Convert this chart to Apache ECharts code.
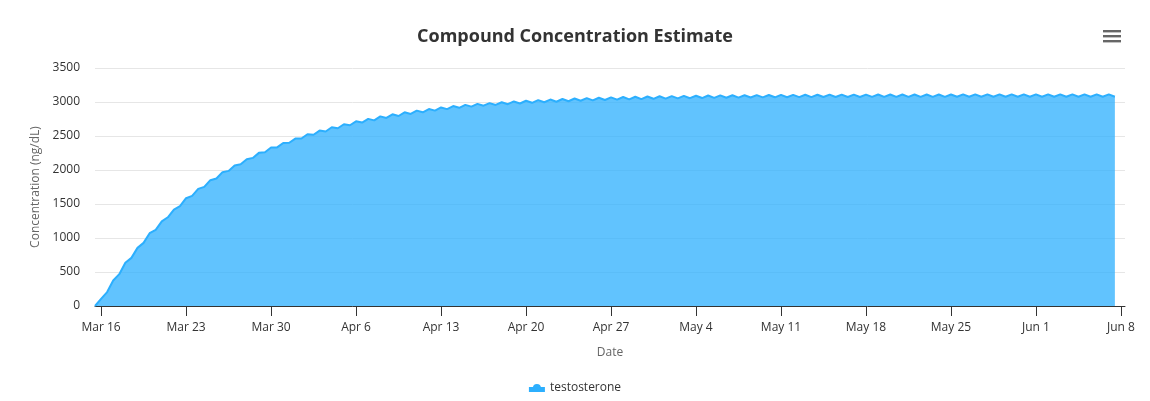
<!DOCTYPE html>
<html>
<head>
<meta charset="utf-8">
<script src="https://cdn.jsdelivr.net/npm/echarts@6/dist/echarts.min.js"></script>
<style>
html,body{margin:0;padding:0;background:#fff;}
#chart{width:1150px;height:401px;}
</style>
</head>
<body>
<div id="chart"></div>
<script>
// Series sampled every 12 hours starting Mar 15, 12:00
const seriesName = 'testosterone';
const startDate = '2024-03-15T12:00:00Z';
const stepHours = 12;
const values = [
  0, 105, 205, 375, 468, 635, 708, 855, 928, 1070,
  1120, 1245, 1305, 1418, 1468, 1585, 1620, 1722, 1752, 1850,
  1875, 1968, 1987, 2066, 2085, 2158, 2178, 2252, 2262, 2330,
  2332, 2398, 2400, 2462, 2463, 2526, 2518, 2580, 2566, 2629,
  2614, 2673, 2658, 2716, 2698, 2752, 2730, 2789, 2765, 2819,
  2794, 2848, 2824, 2873, 2848, 2897, 2873, 2920, 2895, 2940,
  2915, 2958, 2932, 2972, 2946, 2984, 2957, 2996, 2968, 3008,
  2978, 3018, 2988, 3028, 2996, 3036, 3004, 3044, 3011, 3051,
  3018, 3057, 3024, 3063, 3029, 3068, 3034, 3073, 3039, 3077,
  3043, 3081, 3047, 3084, 3050, 3087, 3053,
  3090, 3056, 3092, 3058, 3095, 3061, 3097, 3063, 3099, 3064,
  3100, 3066, 3102, 3068, 3103, 3069, 3104, 3070, 3105, 3071,
  3106, 3072, 3107, 3073, 3108, 3073, 3108, 3074, 3109, 3074,
  3109, 3075, 3110, 3075, 3110, 3075, 3110, 3076, 3111, 3076,
  3111, 3076, 3111, 3076, 3111, 3077, 3112, 3077, 3112, 3077,
  3112, 3077, 3112, 3077, 3112, 3077, 3112, 3077, 3112, 3078,
  3113, 3078, 3113, 3078, 3113, 3078, 3113, 3078, 3113, 3078,
  3113, 3078
];
const tickDates = ['2024-03-16','2024-03-23','2024-03-30','2024-04-06','2024-04-13','2024-04-20','2024-04-27','2024-05-04','2024-05-11','2024-05-18','2024-05-25','2024-06-01','2024-06-08'];
const tickLabels = ['Mar 16','Mar 23','Mar 30','Apr 6','Apr 13','Apr 20','Apr 27','May 4','May 11','May 18','May 25','Jun 1','Jun 8'];
const axisMinDate = '2024-03-15T12:00:00Z';
const axisMaxDate = '2024-06-08T08:00:00Z';

const t0 = Date.parse(startDate);
const step = stepHours * 3600 * 1000;
const data = values.map((v, i) => [t0 + i * step, v]);
const tickValues = tickDates.map(d => Date.parse(d + 'T00:00:00Z'));
const labelMap = {};
tickValues.forEach((t, i) => { labelMap[t] = tickLabels[i]; });

const font = '"Open Sans", "Noto Sans", sans-serif';
const chart = echarts.init(document.getElementById('chart'), null, {renderer: 'canvas'});
chart.setOption({
  animation: false,
  backgroundColor: '#ffffff',
  textStyle: {fontFamily: font},
  title: {
    text: 'Compound Concentration Estimate',
    left: 'center',
    top: 23,
    textStyle: {fontFamily: font, fontSize: 18, fontWeight: 'bold', color: '#333333'}
  },
  legend: {
    bottom: 2,
    left: 'center',
    itemWidth: 16,
    itemHeight: 10,
    icon: 'path://M0,6 L16,6 L16,11 L0,11 Z M4,7 A4,4 0 0 1 12,7 Z',
    textStyle: {fontFamily: font, fontSize: 12, color: '#333333'},
    data: [seriesName]
  },
  grid: {left: 95, right: 25, top: 68, bottom: 95, containLabel: false},
  xAxis: {
    type: 'value',
    min: Date.parse(axisMinDate),
    max: Date.parse(axisMaxDate),
    name: 'Date',
    nameLocation: 'middle',
    nameGap: 41,
    nameTextStyle: {fontFamily: font, fontSize: 12, color: '#666666'},
    axisLine: {show: true, lineStyle: {color: '#333333', width: 1}},
    axisTick: {show: true, length: 10, lineStyle: {color: '#333333'}, customValues: tickValues},
    axisLabel: {
      customValues: tickValues,
      margin: 16,
      fontFamily: font, fontSize: 12, color: '#333333',
      formatter: v => labelMap[v] || ''
    },
    splitLine: {show: false}
  },
  yAxis: {
    type: 'value',
    min: 0,
    max: 3500,
    interval: 500,
    name: 'Concentration (ng/dL)',
    nameLocation: 'middle',
    nameRotate: 90,
    nameGap: 48,
    nameTextStyle: {fontFamily: font, fontSize: 12, color: '#666666'},
    axisLine: {show: false},
    axisTick: {show: false},
    axisLabel: {margin: 15, fontFamily: font, fontSize: 12, color: '#333333', formatter: v => String(v)},
    splitLine: {show: true, lineStyle: {color: '#e6e6e6', width: 1}}
  },
  series: [{
    name: seriesName,
    type: 'line',
    data: data,
    showSymbol: false,
    symbol: 'none',
    color: '#2caffe',
    lineStyle: {width: 2, color: '#2caffe'},
    areaStyle: {color: '#2caffe', opacity: 0.75},
    z: 3
  }],
  graphic: [
    {type: 'rect', left: 1103, top: 30, shape: {width: 18, height: 2.4}, style: {fill: '#666666'}},
    {type: 'rect', left: 1103, top: 35, shape: {width: 18, height: 2.4}, style: {fill: '#666666'}},
    {type: 'rect', left: 1103, top: 40, shape: {width: 18, height: 2.4}, style: {fill: '#666666'}}
  ]
});
</script>
</body>
</html>
